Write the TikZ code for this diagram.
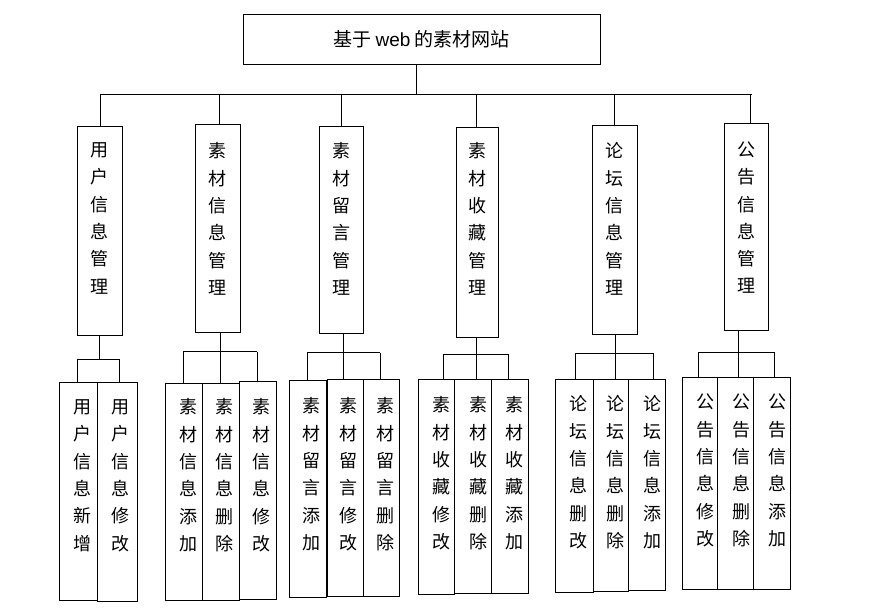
\documentclass[tikz,border=0pt]{standalone}
\usepackage{fontspec}
\setmainfont{Liberation Sans}
\newfontfamily\cjk{Noto Sans CJK SC}
\begin{document}
\begin{tikzpicture}[x=1pt,y=-1pt,
  box/.style={draw, line width=0.9pt, inner sep=0pt, anchor=north west},
  vt/.style={align=center, inner sep=0pt, anchor=north, font=\cjk\fontsize{18}{27.3}\selectfont},
  conn/.style={line width=0.9pt}]
\useasboundingbox (0,0) rectangle (872,610);
% root
\node[box, minimum width=357pt, minimum height=50pt] (root) at (243,14) {};
\node[inner sep=0pt, font=\fontsize{19}{22}\selectfont] (roottxt) at (421.5,39) {\cjk 基于 {\rmfamily web} \cjk 的素材网站};
\coordinate (bus) at (416,94);
\coordinate (busL) at (100.7,94);
\coordinate (busR) at (751.7,94);
\draw[conn] (bus |- root.south) -- (bus);
\draw[conn] (busL) -- (busR);
% middle boxes
\node[box, minimum width=45pt, minimum height=209pt] (m1) at (76.7,126) {};
\node[box, minimum width=45pt, minimum height=208pt] (m2) at (195,124) {};
\node[box, minimum width=43.7pt, minimum height=206.7pt] (m3) at (319.3,126.3) {};
\node[box, minimum width=42.6pt, minimum height=209.4pt] (m4) at (455.7,127.3) {};
\node[box, minimum width=45pt, minimum height=209pt] (m5) at (592.3,125.3) {};
\node[box, minimum width=44pt, minimum height=206.7pt] (m6) at (724.3,123.3) {};
\node[vt] (t1) at (99.2,142.5) {用\\户\\信\\息\\管\\理};
\node[vt] (t2) at (217.5,142.5) {素\\材\\信\\息\\管\\理};
\node[vt] (t3) at (341.2,142.5) {素\\材\\留\\言\\管\\理};
\node[vt] (t4) at (477,142.5) {素\\材\\收\\藏\\管\\理};
\node[vt] (t5) at (614.8,142.5) {论\\坛\\信\\息\\管\\理};
\node[vt] (t6) at (746.3,141.5) {公\\告\\信\\息\\管\\理};
% branches from bus
\coordinate (b1) at (100.7,94);
\coordinate (b2) at (219.7,94);
\coordinate (b3) at (341.7,94);
\coordinate (b4) at (476.7,94);
\coordinate (b5) at (614.7,94);
\coordinate (b6) at (750.7,94);
\foreach \i in {1,...,6} {\draw[conn] (b\i) -- (b\i |- m\i.north);}
% sub buses
\coordinate (s1) at (99.7,359.3);
\coordinate (s2) at (220.3,351.7);
\coordinate (s3) at (343.3,352.7);
\coordinate (s4) at (476.3,354.7);
\coordinate (s5) at (615.7,353.3);
\coordinate (s6) at (738.3,352.3);
\foreach \i in {1,...,6} {\draw[conn] (s\i |- m\i.south) -- (s\i);}
% group 1
\node[box, minimum width=38pt, minimum height=218pt] (a1) at (59.3,382.3) {};
\node[box, minimum width=39.4pt, minimum height=219pt] (a2) at (97.3,382.3) {};
\coordinate (g1L) at (77.3,359.3);
\coordinate (g1R) at (119.3,359.3);
\draw[conn] (g1L) -- (g1R);
\draw[conn] (g1L) -- (g1L |- a1.north);
\draw[conn] (g1R) -- (g1R |- a2.north);
\node[vt] (ta1) at (82.3,399.5) {用\\户\\信\\息\\新\\增};
\node[vt] (ta2) at (120.5,399.5) {用\\户\\信\\息\\修\\改};
% group 2
\node[box, minimum width=36.4pt, minimum height=216.7pt] (c21) at (165.3,383.3) {};
\node[box, minimum width=37pt, minimum height=216.7pt] (c22) at (201.7,383.3) {};
\node[box, minimum width=37pt, minimum height=217.4pt] (c23) at (238.7,381.3) {};
\coordinate (g2L) at (183.3,351.7);
\coordinate (g2R) at (257.3,351.7);
\draw[conn] (g2L) -- (g2R);
\draw[conn] (g2L) -- (g2L |- c21.north);
\draw[conn] (s2) -- (s2 |- c22.north);
\draw[conn] (g2R) -- (g2R |- c23.north);
\node[vt] (tb1) at (188,398.5) {素\\材\\信\\息\\添\\加};
\node[vt] (tb2) at (224.5,398.5) {素\\材\\信\\息\\删\\除};
\node[vt] (tb3) at (261.5,398.5) {素\\材\\信\\息\\修\\改};
% group 3
\node[box, minimum width=36.4pt, minimum height=217pt] (c31) at (289.3,380.3) {};
\node[box, minimum width=36pt, minimum height=217pt] (c32) at (326.7,379.3) {};
\node[box, minimum width=36.6pt, minimum height=217pt] (c33) at (362.7,379.3) {};
\coordinate (g3L) at (307.3,352.7);
\coordinate (g3R) at (380.3,352.7);
\draw[conn] (g3L) -- (g3R);
\draw[conn] (g3L) -- (g3L |- c31.north);
\draw[conn] (s3) -- (s3 |- c32.north);
\draw[conn] (g3R) -- (g3R |- c33.north);
\node[vt] (tc1) at (311.5,397.5) {素\\材\\留\\言\\添\\加};
\node[vt] (tc2) at (348.5,397.5) {素\\材\\留\\言\\修\\改};
\node[vt] (tc3) at (385,397.5) {素\\材\\留\\言\\删\\除};
% group 4
\node[box, minimum width=36pt, minimum height=215pt] (c41) at (418.3,379.3) {};
\node[box, minimum width=37pt, minimum height=214pt] (c42) at (454.3,379.3) {};
\node[box, minimum width=36.4pt, minimum height=214pt] (c43) at (491.3,379.3) {};
\coordinate (g4L) at (443.3,354.7);
\coordinate (g4R) at (508.7,354.7);
\draw[conn] (g4L) -- (g4R);
\draw[conn] (g4L) -- (g4L |- c41.north);
\draw[conn] (s4) -- (s4 |- c42.north);
\draw[conn] (g4R) -- (g4R |- c43.north);
\node[vt] (td1) at (441.5,396.5) {素\\材\\收\\藏\\修\\改};
\node[vt] (td2) at (478.5,396.5) {素\\材\\收\\藏\\删\\除};
\node[vt] (td3) at (514.5,396.5) {素\\材\\收\\藏\\添\\加};
% group 5
\node[box, minimum width=37.4pt, minimum height=213pt] (c51) at (555.3,379.3) {};
\node[box, minimum width=35.6pt, minimum height=212pt] (c52) at (592.7,379.3) {};
\node[box, minimum width=37pt, minimum height=210.7pt] (c53) at (628.3,379.3) {};
\coordinate (g5L) at (575.7,353.3);
\coordinate (g5R) at (653.7,353.3);
\draw[conn] (g5L) -- (g5R);
\draw[conn] (g5L) -- (g5L |- c51.north);
\draw[conn] (s5) -- (s5 |- c52.north);
\draw[conn] (g5R) -- (g5R |- c53.north);
\node[vt] (te1) at (578.5,395.5) {论\\坛\\信\\息\\删\\改};
\node[vt] (te2) at (615.5,395.5) {论\\坛\\信\\息\\删\\除};
\node[vt] (te3) at (652.5,395.5) {论\\坛\\信\\息\\添\\加};
% group 6
\node[box, minimum width=35.6pt, minimum height=211.7pt] (c61) at (681.7,377.3) {};
\node[box, minimum width=36pt, minimum height=211.7pt] (c62) at (717.3,377.3) {};
\node[box, minimum width=37pt, minimum height=211.7pt] (c63) at (753.3,377.3) {};
\coordinate (g6L) at (698.3,352.3);
\coordinate (g6R) at (774.3,352.3);
\draw[conn] (g6L) -- (g6R);
\draw[conn] (g6L) -- (g6L |- c61.north);
\draw[conn] (s6) -- (s6 |- c62.north);
\draw[conn] (g6R) -- (g6R |- c63.north);
\node[vt] (tf1) at (705,394) {公\\告\\信\\息\\修\\改};
\node[vt] (tf2) at (741,394) {公\\告\\信\\息\\删\\除};
\node[vt] (tf3) at (777,394) {公\\告\\信\\息\\添\\加};
\end{tikzpicture}
\end{document}
